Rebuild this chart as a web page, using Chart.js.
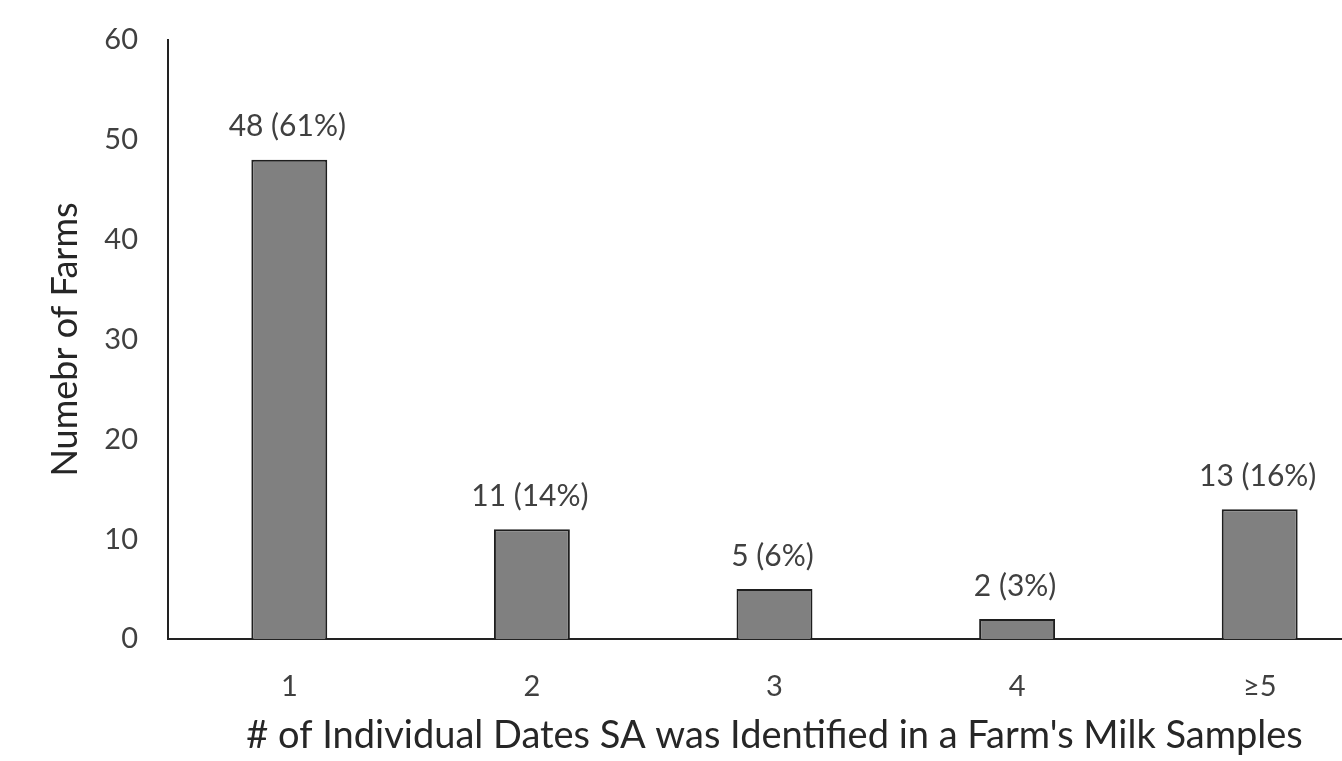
<!DOCTYPE html>
<html>
<head>
<meta charset="utf-8">
<script src="https://cdn.jsdelivr.net/npm/chart.js@4/dist/chart.umd.min.js"></script>
<style>
  html, body { margin: 0; padding: 0; background: #fff; overflow: hidden; }
  #wrap { width: 1381px; height: 761px; }
</style>
</head>
<body>
<div id="wrap"><canvas id="c" width="1381" height="761"></canvas></div>
<script>
// Farms by number of distinct dates SA was found in the milk samples
const categories = ['1', '2', '3', '4', '\u22655'];
const farmCounts = [48, 11, 5, 2, 13];
const farmPercents = [61, 14, 6, 3, 16];
const yTicks = [0, 10, 20, 30, 40, 50, 60];

const FONT = 'Lato, "Open Sans", sans-serif';

// Writes "count (pct%)" above each bar
const barLabels = {
  id: 'barLabels',
  afterDatasetsDraw(chart) {
    const ctx = chart.ctx;
    const meta = chart.getDatasetMeta(0);
    ctx.save();
    ctx.font = '30px ' + FONT;
    ctx.fillStyle = '#404040';
    ctx.textAlign = 'center';
    ctx.textBaseline = 'middle';
    meta.data.forEach((bar, i) => {
      ctx.fillText(farmCounts[i] + ' (' + farmPercents[i] + '%)', bar.x - 2, bar.y - 33);
    });
    ctx.restore();
  }
};

new Chart(document.getElementById('c'), {
  type: 'bar',
  data: {
    labels: categories,
    datasets: [{
      data: farmCounts,
      backgroundColor: '#808080',
      borderColor: '#1e1e1e',
      borderWidth: 2,
      barPercentage: 0.313,
      categoryPercentage: 1.0
    }]
  },
  options: {
    responsive: false,
    animation: false,
    layout: { padding: { top: 40, right: 0, bottom: 0, left: 0 } },
    plugins: { legend: { display: false }, tooltip: { enabled: false } },
    scales: {
      x: {
        offset: true,
        grid: { display: false, drawTicks: false },
        border: { display: true, color: '#222', width: 2 },
        ticks: { color: '#404040', font: { family: FONT, size: 29 }, padding: 30 },
        title: {
          display: true,
          text: "# of Individual Dates SA was Identified in a Farm's Milk Samples",
          color: '#262626',
          font: { family: FONT, size: 38 },
          padding: { top: 0, bottom: 2 }
        },
        afterFit(scale) { scale.height = 122; scale.paddingLeft = 0; scale.paddingRight = 0; }
      },
      y: {
        min: 0,
        max: 60,
        afterBuildTicks(scale) { scale.ticks = yTicks.map(v => ({ value: v })); },
        grid: { display: false, drawTicks: false },
        border: { display: true, color: '#222', width: 2 },
        ticks: { color: '#404040', font: { family: FONT, size: 29 }, padding: 30 },
        title: {
          display: true,
          text: 'Numebr of Farms',
          color: '#262626',
          font: { family: FONT, size: 36 },
          padding: { top: 44, bottom: 0 }
        },
        afterFit(scale) { scale.width = 168; scale.paddingTop = 0; scale.paddingBottom = 0; }
      }
    }
  },
  plugins: [barLabels]
});
</script>
</body>
</html>
